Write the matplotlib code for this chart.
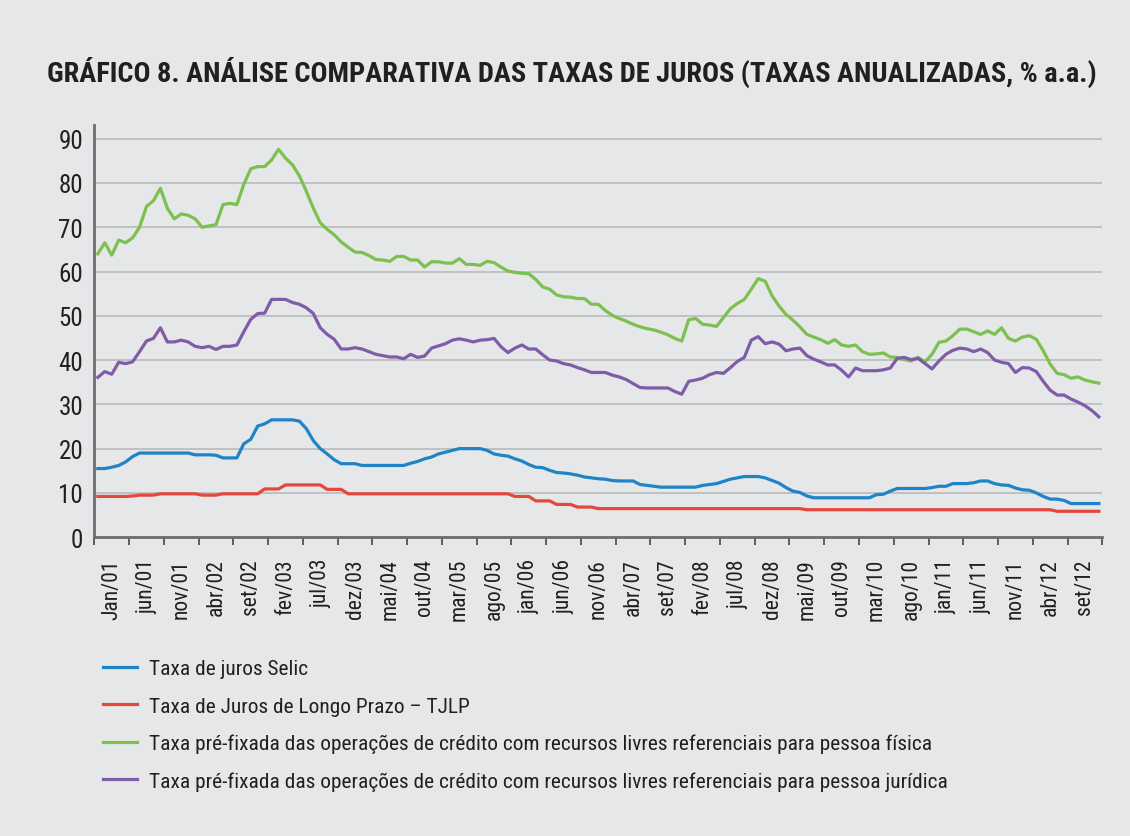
import numpy as np
import matplotlib
matplotlib.use("Agg")
import matplotlib.pyplot as plt
from matplotlib.ticker import FixedLocator, NullFormatter, FixedFormatter

plt.rcParams['font.family'] = ['Roboto Condensed', 'DejaVu Sans']

# month labels shown on the axis (every 5th month)
tick_labels = ['Jan/01', 'jun/01', 'nov/01', 'abr/02', 'set/02', 'fev/03', 'jul/03',
               'dez/03', 'mai/04', 'out/04', 'mar/05', 'ago/05', 'jan/06', 'jun/06',
               'nov/06', 'abr/07', 'set/07', 'fev/08', 'jul/08', 'dez/08', 'mai/09',
               'out/09', 'mar/10', 'ago/10', 'jan/11', 'jun/11', 'nov/11', 'abr/12',
               'set/12']

# Taxa de juros Selic (monthly, jan/01 onwards)
selic = [15.5, 15.5, 15.8, 16.2, 17.0, 18.2, 19.0, 19.0, 19.0, 19.0,
         19.0, 19.0, 19.0, 19.0, 18.6, 18.6, 18.6, 18.5, 17.9, 17.9,
         17.9, 21.1, 22.1, 25.1, 25.6, 26.5, 26.5, 26.5, 26.5, 26.2,
         24.5, 21.8, 20.0, 18.8, 17.5, 16.6, 16.6, 16.6, 16.2, 16.2,
         16.2, 16.2, 16.2, 16.2, 16.2, 16.7, 17.1, 17.7, 18.1, 18.8,
         19.2, 19.6, 20.0, 20.0, 20.0, 20.0, 19.6, 18.8, 18.5, 18.3,
         17.7, 17.2, 16.4, 15.8, 15.7, 15.1, 14.6, 14.5, 14.3, 14.0,
         13.6, 13.4, 13.2, 13.1, 12.8, 12.7, 12.7, 12.7, 11.9, 11.7,
         11.5, 11.3, 11.3, 11.3, 11.3, 11.3, 11.3, 11.7, 11.9, 12.1,
         12.6, 13.1, 13.4, 13.7, 13.7, 13.7, 13.4, 12.8, 12.2, 11.2,
         10.4, 10.1, 9.3, 8.9, 8.9, 8.9, 8.9, 8.9, 8.9, 8.9,
         8.9, 8.9, 9.6, 9.7, 10.4, 11.0, 11.0, 11.0, 11.0, 11.0,
         11.2, 11.5, 11.5, 12.1, 12.1, 12.1, 12.3, 12.7, 12.7, 12.1,
         11.8, 11.7, 11.1, 10.7, 10.6, 10.0, 9.2, 8.6, 8.6, 8.3,
         7.6, 7.6, 7.6, 7.6, 7.6]

# TJLP
tjlp = [9.2, 9.2, 9.2, 9.2, 9.2, 9.3, 9.5, 9.5, 9.5, 9.8,
        9.8, 9.8, 9.8, 9.8, 9.8, 9.5, 9.5, 9.5, 9.8, 9.8,
        9.8, 9.8, 9.8, 9.8, 10.9, 10.9, 10.9, 11.8, 11.8, 11.8,
        11.8, 11.8, 11.8, 10.8, 10.8, 10.8, 9.8, 9.8, 9.8, 9.8,
        9.8, 9.8, 9.8, 9.8, 9.8, 9.8, 9.8, 9.8, 9.8, 9.8,
        9.8, 9.8, 9.8, 9.8, 9.8, 9.8, 9.8, 9.8, 9.8, 9.8,
        9.2, 9.2, 9.2, 8.2, 8.2, 8.2, 7.4, 7.4, 7.4, 6.8,
        6.8, 6.8, 6.45, 6.45, 6.45, 6.45, 6.45, 6.45, 6.45, 6.45,
        6.45, 6.45, 6.45, 6.45, 6.45, 6.45, 6.45, 6.45, 6.45, 6.45,
        6.45, 6.45, 6.45, 6.45, 6.45, 6.45, 6.45, 6.45, 6.45, 6.45,
        6.45, 6.45, 6.2, 6.2, 6.2, 6.2, 6.2, 6.2, 6.2, 6.2,
        6.2, 6.2, 6.2, 6.2, 6.2, 6.2, 6.2, 6.2, 6.2, 6.2,
        6.2, 6.2, 6.2, 6.2, 6.2, 6.2, 6.2, 6.2, 6.2, 6.2,
        6.2, 6.2, 6.2, 6.2, 6.2, 6.2, 6.2, 6.2, 5.85, 5.85,
        5.85, 5.85, 5.85, 5.85, 5.85]

# taxa pre-fixada, pessoa fisica
pf = [64.0, 66.5, 63.7, 67.1, 66.5, 67.6, 70.0, 74.7, 76.0, 78.8,
      74.3, 71.9, 73.0, 72.7, 71.9, 70.0, 70.3, 70.6, 75.1, 75.4,
      75.1, 79.7, 83.2, 83.7, 83.7, 85.2, 87.6, 85.6, 84.1, 81.6,
      78.1, 74.3, 71.0, 69.5, 68.3, 66.7, 65.5, 64.4, 64.3, 63.6,
      62.7, 62.6, 62.3, 63.4, 63.4, 62.6, 62.6, 61.0, 62.2, 62.2,
      61.9, 61.9, 62.9, 61.6, 61.6, 61.4, 62.3, 62.0, 61.0, 60.1,
      59.8, 59.6, 59.5, 58.2, 56.5, 56.0, 54.7, 54.3, 54.2, 53.9,
      53.9, 52.6, 52.6, 51.2, 50.1, 49.4, 48.8, 48.1, 47.5, 47.1,
      46.8, 46.3, 45.7, 44.9, 44.3, 49.1, 49.4, 48.1, 47.9, 47.6,
      49.6, 51.6, 52.8, 53.7, 56.0, 58.4, 57.8, 54.5, 52.2, 50.3,
      49.0, 47.5, 45.8, 45.2, 44.6, 43.8, 44.6, 43.4, 43.1, 43.4,
      41.9, 41.3, 41.4, 41.6, 40.7, 40.6, 40.1, 39.8, 40.6, 39.6,
      41.3, 44.0, 44.3, 45.5, 47.0, 47.0, 46.4, 45.8, 46.6, 45.8,
      47.3, 44.9, 44.3, 45.2, 45.5, 44.7, 42.1, 39.1, 37.0, 36.7,
      35.9, 36.2, 35.5, 35.1, 34.8]

# taxa pre-fixada, pessoa juridica
pj = [36.1, 37.4, 36.8, 39.5, 39.2, 39.6, 41.9, 44.3, 44.9, 47.3,
      44.1, 44.1, 44.5, 44.1, 43.1, 42.8, 43.1, 42.4, 43.1, 43.1,
      43.4, 46.4, 49.2, 50.5, 50.6, 53.7, 53.7, 53.7, 53.0, 52.6,
      51.8, 50.5, 47.3, 45.8, 44.7, 42.5, 42.5, 42.8, 42.5, 41.9,
      41.3, 41.0, 40.7, 40.7, 40.3, 41.3, 40.6, 40.9, 42.7, 43.2,
      43.7, 44.5, 44.8, 44.5, 44.1, 44.5, 44.6, 44.9, 43.0, 41.7,
      42.7, 43.4, 42.5, 42.5, 41.2, 40.0, 39.8, 39.2, 38.9, 38.3,
      37.8, 37.2, 37.2, 37.2, 36.6, 36.2, 35.6, 34.7, 33.8, 33.7,
      33.7, 33.7, 33.7, 32.9, 32.3, 35.2, 35.5, 35.9, 36.7, 37.2,
      37.0, 38.3, 39.7, 40.6, 44.5, 45.3, 43.7, 44.1, 43.6, 42.1,
      42.5, 42.7, 41.0, 40.2, 39.6, 38.9, 38.9, 37.7, 36.2, 38.2,
      37.6, 37.6, 37.6, 37.8, 38.2, 40.4, 40.6, 40.1, 40.4, 39.2,
      38.0, 39.8, 41.3, 42.2, 42.7, 42.5, 41.9, 42.5, 41.7, 40.0,
      39.5, 39.2, 37.2, 38.3, 38.2, 37.4, 35.2, 33.2, 32.1, 32.1,
      31.2, 30.5, 29.7, 28.6, 27.2]

series_names = ['Taxa de juros Selic',
                'Taxa de Juros de Longo Prazo – TJLP',
                'Taxa pré-fixada das operações de crédito com recursos livres referenciais para pessoa física',
                'Taxa pré-fixada das operações de crédito com recursos livres referenciais para pessoa jurídica']
colors = ['#1f84c6', '#e5473f', '#7cc04f', '#7e5ca8']

bg = '#e6e7e8'
n = len(selic)
x = np.arange(n) + 0.5   # points sit in the middle of each month slot

fig = plt.figure(figsize=(11.3, 8.37), dpi=100, facecolor=bg)
ax = fig.add_axes([0.0835, 0.357, 0.892, 0.492])
ax.set_facecolor(bg)

ax.grid(visible=True, axis='y', color='#bcbec0', lw=1.3, zorder=0)
for vals, c, lab in zip([selic, tjlp, pf, pj], colors, series_names):
    ax.plot(x, vals, color=c, lw=2.3, label=lab, zorder=3)

ax.set_xlim(0, n)
ax.set_ylim(0, 93)
ax.set_yticks(range(0, 91, 10))
ax.tick_params(axis='y', length=0, labelsize=18, pad=8, labelcolor='#231f20')

ax.xaxis.set_major_locator(FixedLocator(np.arange(0, n + 1, 5)))
ax.xaxis.set_major_formatter(NullFormatter())
ax.xaxis.set_minor_locator(FixedLocator(np.arange(2.5, n, 5)))
ax.xaxis.set_minor_formatter(FixedFormatter(tick_labels))
ax.tick_params(axis='x', which='major', length=6, width=1.2, color='#444444')
ax.tick_params(axis='x', which='minor', length=0, labelsize=15.5, pad=15,
               labelrotation=90, labelcolor='#231f20')

for s in ['top', 'right']:
    ax.spines[s].set_visible(False)
for s in ['left', 'bottom']:
    ax.spines[s].set_color('#6d6e71')
    ax.spines[s].set_linewidth(2)

fig.text(0.0416, 0.902, 'GRÁFICO 8. ANÁLISE COMPARATIVA DAS TAXAS DE JUROS (TAXAS ANUALIZADAS, % a.a.)',
         fontsize=20.4, fontweight='bold', color='#231f20', va='baseline')

fig.legend(loc='upper left', bbox_to_anchor=(0.0912, 0.211), frameon=False,
           fontsize=15.4, handlelength=1.6, handletextpad=0.55, labelspacing=0.85,
           labelcolor='#231f20', borderaxespad=0, borderpad=0)

plt.savefig('out.png', dpi=100, facecolor=bg)
